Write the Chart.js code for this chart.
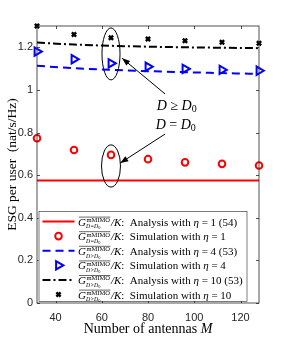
<!DOCTYPE html>
<html>
<head>
<meta charset="utf-8">
<script src="https://cdn.jsdelivr.net/npm/chart.js@4.4.1/dist/chart.umd.min.js"></script>
<style>
  html, body { margin: 0; padding: 0; background: #fff; }
  #wrap { width: 287px; height: 343px; }
</style>
</head>
<body>
<div id="wrap"><canvas id="grafico"></canvas></div>
<script>
// data
const antennas = [32, 48, 64, 80, 96, 112, 128];
const anaEta1 = [0.575, 0.575, 0.575, 0.575, 0.575, 0.575, 0.575];
const simEta1 = [0.773, 0.718, 0.695, 0.675, 0.660, 0.653, 0.645];
const anaEta4 = [1.113, 1.102, 1.094, 1.088, 1.083, 1.079, 1.075];
const simEta4 = [1.180, 1.144, 1.125, 1.109, 1.099, 1.094, 1.090];
const anaEta10 = [1.222, 1.213, 1.207, 1.203, 1.200, 1.198, 1.196];
const simEta10 = [1.300, 1.260, 1.245, 1.239, 1.231, 1.224, 1.219];
const xTicks = [40, 60, 80, 100, 120];
const yTicks = [0, 0.2, 0.4, 0.6, 0.8, 1, 1.2];
const legendSubs = ['D=D', 'D=D', 'D>D', 'D>D', 'D>D', 'D>D'];
const legendTexts = [
  ['Analysis with ', 'η', ' = 1 (54)'],
  ['Simulation with ', 'η', ' = 1'],
  ['Analysis with ', 'η', ' = 4 (53)'],
  ['Simulation with ', 'η', ' = 4'],
  ['Analysis with ', 'η', ' = 10 (53)'],
  ['Simulation with ', 'η', ' = 10']
];

const SERIF = '"Liberation Serif", "DejaVu Serif", serif';
const SANS = '"Liberation Sans", Arial, sans-serif';

function pts(ys) {
  return antennas.map((m, i) => ({ x: m, y: ys[i] }));
}

const datasets = [
  { data: pts(anaEta1), borderColor: '#ff0000', borderWidth: 2, pointRadius: 0, showLine: true, fill: false },
  { data: pts(simEta1), borderColor: '#ff0000', backgroundColor: 'rgba(0,0,0,0)', borderWidth: 2,
    pointStyle: 'circle', pointRadius: 3.3, showLine: false, clip: false },
  { data: pts(anaEta4), borderColor: '#0000ff', borderWidth: 2, borderDash: [8, 5], pointRadius: 0,
    showLine: true, cubicInterpolationMode: 'monotone' },
  { data: pts(simEta4), borderColor: '#0000ff', backgroundColor: 'rgba(0,0,0,0)', borderWidth: 2,
    pointStyle: 'triangle', pointRotation: 90, pointRadius: 4.8, showLine: false, clip: false },
  { data: pts(anaEta10), borderColor: '#000000', borderWidth: 2, borderDash: [8, 3, 2, 3], pointRadius: 0,
    showLine: true, cubicInterpolationMode: 'monotone' },
  { data: pts(simEta10), borderColor: '#000000', backgroundColor: 'rgba(0,0,0,0)', borderWidth: 2.4,
    pointStyle: 'crossRot', pointRadius: 3, showLine: false, clip: false }
];

// annotations in data coordinates
const ellipses = [
  { m: 64, v: 1.169, rm: 3.9, rv: 0.122 },
  { m: 64, v: 0.643, rm: 4.1, rv: 0.099 }
];
const arrows = [
  { from: [87.4, 0.981], to: [68.8, 1.149] },
  { from: [87.4, 0.793], to: [68.0, 0.657] }
];
const notes = [
  { m: 83.8, v: 0.925, rel: ' ≥ ' },
  { m: 83.3, v: 0.832, rel: ' = ' }
];

function rich(ctx, x, y, parts) {
  parts.forEach(p => {
    ctx.font = p.f;
    ctx.fillText(p.t, x, y + (p.dy || 0));
    x += ctx.measureText(p.t).width;
  });
  return x;
}

function drawLabel(ctx, x, y, sub, txt) {
  ctx.fillStyle = '#000';
  ctx.textBaseline = 'alphabetic';
  ctx.textAlign = 'left';
  ctx.font = 'italic 11px ' + SERIF;
  ctx.fillText('G', x, y + 4);
  const gw = ctx.measureText('G').width;
  ctx.font = '6.5px ' + SERIF;
  ctx.fillText('mMIMO', x + gw + 0.5, y + 0.5);
  const supEnd = x + gw + 0.5 + ctx.measureText('mMIMO').width;
  const subEnd = rich(ctx, x + gw, y + 6.8, [
    { t: sub, f: 'italic 5.8px ' + SERIF },
    { t: '0', f: '4.4px ' + SERIF, dy: 1 }
  ]);
  const end = Math.max(supEnd, subEnd) + 0.5;
  ctx.strokeStyle = '#000';
  ctx.lineWidth = 0.6;
  ctx.setLineDash([]);
  ctx.beginPath();
  ctx.moveTo(x + 1, y - 4.4);
  ctx.lineTo(end, y - 4.4);
  ctx.stroke();
  rich(ctx, end + 0.5, y + 4, [
    { t: '/K', f: 'italic 11px ' + SERIF },
    { t: ':  ' + txt[0], f: '11px ' + SERIF },
    { t: txt[1], f: 'italic 11px ' + SERIF },
    { t: txt[2], f: '11px ' + SERIF }
  ]);
}

const deco = {
  id: 'deco',
  afterDraw(chart) {
    const ctx = chart.ctx;
    const xs = chart.scales.x, ys = chart.scales.y;
    const a = chart.chartArea;
    ctx.save();

    // box and inward ticks
    ctx.strokeStyle = '#262626';
    ctx.lineWidth = 0.8;
    ctx.setLineDash([]);
    ctx.strokeRect(a.left, a.top, a.right - a.left, a.bottom - a.top);
    ctx.beginPath();
    xTicks.forEach(t => {
      const px = Math.round(xs.getPixelForValue(t)) + 0.5;
      ctx.moveTo(px, a.bottom); ctx.lineTo(px, a.bottom - 3);
      ctx.moveTo(px, a.top); ctx.lineTo(px, a.top + 3);
    });
    yTicks.forEach(t => {
      const py = Math.round(ys.getPixelForValue(t)) + 0.5;
      ctx.moveTo(a.left, py); ctx.lineTo(a.left + 3, py);
      ctx.moveTo(a.right, py); ctx.lineTo(a.right - 3, py);
    });
    ctx.stroke();

    // ellipses
    ctx.strokeStyle = '#000';
    ctx.lineWidth = 1;
    ellipses.forEach(e => {
      const cx = xs.getPixelForValue(e.m), cy = ys.getPixelForValue(e.v);
      const rx = xs.getPixelForValue(e.m + e.rm) - cx;
      const ry = cy - ys.getPixelForValue(e.v + e.rv);
      ctx.beginPath();
      ctx.ellipse(cx, cy, rx, ry, 0, 0, Math.PI * 2);
      ctx.stroke();
    });

    // arrows
    arrows.forEach(ar => {
      const x1 = xs.getPixelForValue(ar.from[0]), y1 = ys.getPixelForValue(ar.from[1]);
      const x2 = xs.getPixelForValue(ar.to[0]), y2 = ys.getPixelForValue(ar.to[1]);
      const ang = Math.atan2(y2 - y1, x2 - x1);
      ctx.beginPath();
      ctx.moveTo(x1, y1); ctx.lineTo(x2, y2);
      ctx.stroke();
      ctx.beginPath();
      ctx.moveTo(x2, y2);
      ctx.lineTo(x2 - 8 * Math.cos(ang) + 3 * Math.sin(ang), y2 - 8 * Math.sin(ang) - 3 * Math.cos(ang));
      ctx.lineTo(x2 - 8 * Math.cos(ang) - 3 * Math.sin(ang), y2 - 8 * Math.sin(ang) + 3 * Math.cos(ang));
      ctx.closePath();
      ctx.fillStyle = '#000';
      ctx.fill();
    });

    // D >= D0 / D = D0
    ctx.fillStyle = '#000';
    ctx.textBaseline = 'middle';
    ctx.textAlign = 'left';
    notes.forEach(n => {
      rich(ctx, xs.getPixelForValue(n.m), ys.getPixelForValue(n.v), [
        { t: 'D', f: 'italic 14px ' + SERIF },
        { t: n.rel, f: '14px ' + SERIF },
        { t: 'D', f: 'italic 14px ' + SERIF },
        { t: '0', f: '10px ' + SERIF, dy: 3 }
      ]);
    });

    // legend
    const lx = a.left + 1.5, ly = a.bottom - 92, lw = 208, lh = 90;
    ctx.fillStyle = '#fff';
    ctx.fillRect(lx, ly, lw, lh);
    ctx.strokeStyle = '#262626';
    ctx.lineWidth = 0.6;
    ctx.strokeRect(lx + 0.5, ly + 0.5, lw, lh);
    chart.data.datasets.forEach((ds, i) => {
      const cy = ly + 10.5 + i * 14.6;
      ctx.save();
      ctx.strokeStyle = ds.borderColor;
      ctx.lineWidth = ds.borderWidth;
      if (ds.showLine) {
        ctx.setLineDash(ds.borderDash || []);
        ctx.beginPath();
        ctx.moveTo(lx + 4, cy); ctx.lineTo(lx + 36, cy);
        ctx.stroke();
      } else {
        ctx.setLineDash([]);
        ctx.fillStyle = 'rgba(0,0,0,0)';
        Chart.helpers.drawPoint(ctx, {
          pointStyle: ds.pointStyle, radius: ds.pointRadius,
          rotation: ds.pointRotation || 0, borderWidth: ds.borderWidth
        }, lx + 20, cy);
      }
      ctx.restore();
      drawLabel(ctx, lx + 39.5, cy, legendSubs[i], legendTexts[i]);
    });

    // axis titles
    ctx.fillStyle = '#000';
    ctx.textBaseline = 'middle';
    ctx.textAlign = 'left';
    const t1 = 'Number of antennas ';
    ctx.font = 'italic 14px ' + SERIF;
    const wM = ctx.measureText('M').width;
    ctx.font = '14px ' + SERIF;
    const w1 = ctx.measureText(t1).width;
    const xc = (a.left + a.right) / 2;
    rich(ctx, xc - (w1 + wM) / 2, 329, [
      { t: t1, f: '14px ' + SERIF },
      { t: 'M', f: 'italic 14px ' + SERIF }
    ]);
    ctx.save();
    ctx.translate(12, (a.top + a.bottom) / 2);
    ctx.rotate(-Math.PI / 2);
    ctx.textAlign = 'center';
    ctx.font = '13.5px ' + SERIF;
    ctx.fillText('ESG per user  (nat/s/Hz)', 0, 0);
    ctx.restore();

    ctx.restore();
  }
};

new Chart(document.getElementById('grafico').getContext('2d'), {
  type: 'scatter',
  data: { datasets: datasets },
  options: {
    responsive: true,
    maintainAspectRatio: false,
    animation: false,
    layout: { padding: { left: 0, right: 28, top: 26, bottom: 0 } },
    plugins: { legend: { display: false }, tooltip: { enabled: false } },
    scales: {
      x: {
        type: 'linear', min: 32, max: 128,
        afterFit: s => { s.height = 40; },
        afterBuildTicks: s => { s.ticks = xTicks.map(v => ({ value: v })); },
        grid: { display: false, drawTicks: false },
        border: { display: false },
        ticks: { padding: 8, color: '#262626', maxRotation: 0, autoSkip: false,
          font: { family: SANS, size: 11 } }
      },
      y: {
        type: 'linear', min: 0, max: 1.3,
        afterFit: s => { s.width = 37; },
        afterBuildTicks: s => { s.ticks = yTicks.map(v => ({ value: v })); },
        grid: { display: false, drawTicks: false },
        border: { display: false },
        ticks: { padding: 4, color: '#262626', autoSkip: false,
          font: { family: SANS, size: 11 },
          callback: v => String(+v.toFixed(1)) }
      }
    }
  },
  plugins: [deco]
});
</script>
</body>
</html>
